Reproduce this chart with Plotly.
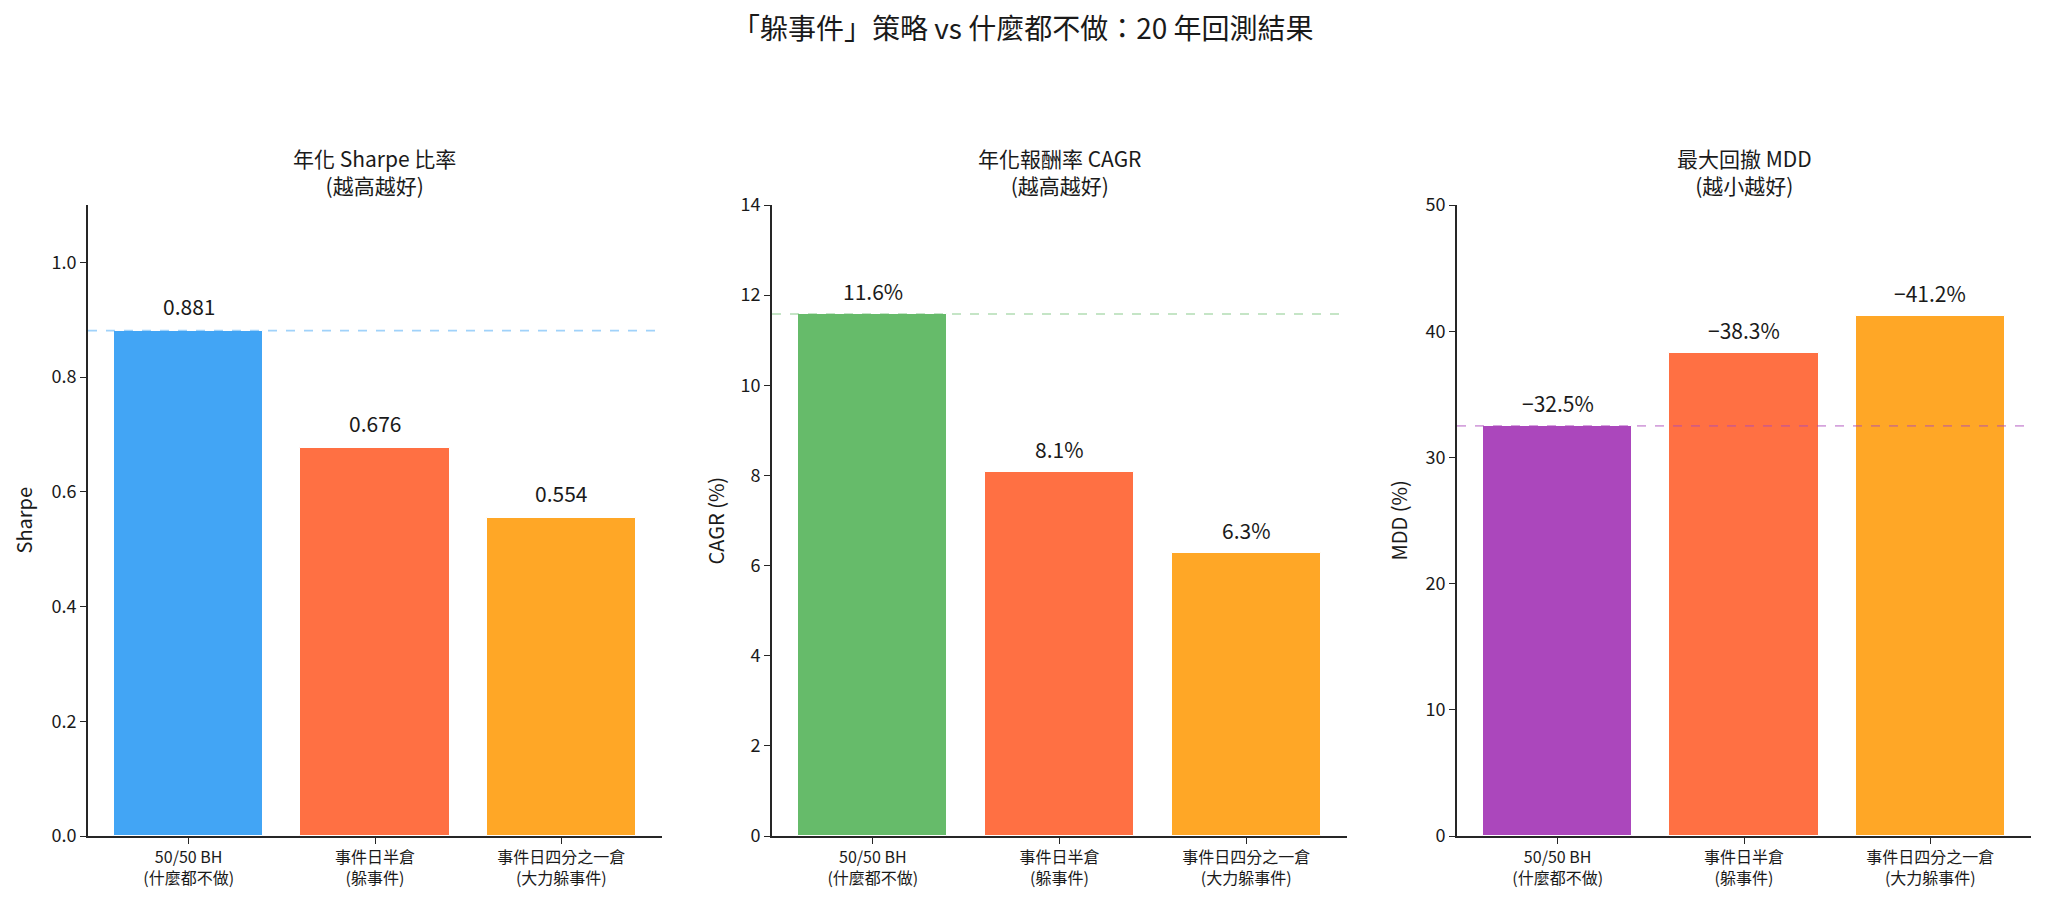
import plotly.graph_objects as go

W, H = 2045, 904
FONT = "Noto Sans CJK TC"

categories = ["50/50 BH<br>(什麼都不做)", "事件日半倉<br>(躲事件)", "事件日四分之一倉<br>(大力躲事件)"]
sharpe = [0.881, 0.676, 0.554]
cagr = [11.58, 8.07, 6.28]
mdd = [32.5, 38.3, 41.2]
sharpe_labels = ["0.881", "0.676", "0.554"]
cagr_labels = ["11.6%", "8.1%", "6.3%"]
mdd_labels = ["\u221232.5%", "\u221238.3%", "\u221241.2%"]

panel_titles = ["年化 Sharpe 比率<br>(越高越好)", "年化報酬率 CAGR<br>(越高越好)", "最大回撤 MDD<br>(越小越好)"]
y_titles = ["Sharpe", "CAGR (%)", "MDD (%)"]
y_ranges = [[0, 1.1], [0, 14], [0, 50]]
y_dticks = [0.2, 2, 10]
y_formats = [".1f", "d", "d"]
label_shift = [8, 6, 6]

colors = [
    ["#42A5F5", "#FF7043", "#FFA726"],
    ["#66BB6A", "#FF7043", "#FFA726"],
    ["#AB47BC", "#FF7043", "#FFA726"],
]
ref_colors = ["rgba(66,165,245,0.5)", "rgba(102,187,106,0.5)", "rgba(171,71,188,0.5)"]

series = [sharpe, cagr, mdd]
labels = [sharpe_labels, cagr_labels, mdd_labels]

# pixel layout of each panel
x_px = [(88, 662), (772, 1347), (1457, 2031)]
y_px = (205, 836)
ydom = [(H - y_px[1]) / H, (H - y_px[0]) / H]
ylab_px = [23, 715, 1398]

fig = go.Figure()
annotations = []
shapes = []
xs = list(range(len(categories)))

for i in range(3):
    xa = "x" if i == 0 else f"x{i+1}"
    ya = "y" if i == 0 else f"y{i+1}"
    fig.add_trace(go.Bar(
        x=xs, y=series[i], width=0.8,
        marker=dict(color=colors[i], line=dict(color="white", width=1)),
        xaxis=xa, yaxis=ya, showlegend=False, hoverinfo="skip",
    ))
    dom = [x_px[i][0] / W, x_px[i][1] / W]
    axis_common = dict(showline=True, linecolor="#262626", linewidth=1.6,
                       ticks="outside", ticklen=6, tickwidth=1.4, tickcolor="#262626",
                       showgrid=False, zeroline=False, mirror=False, automargin=False)
    fig.update_layout(**{
        ("xaxis" if i == 0 else f"xaxis{i+1}"): dict(
            domain=dom, anchor=ya, range=[-0.54, 2.54], tickmode="array",
            tickvals=xs, ticktext=categories,
            tickfont=dict(family=FONT, size=16, color="#1a1a1a"), **axis_common),
        ("yaxis" if i == 0 else f"yaxis{i+1}"): dict(
            domain=ydom, anchor=xa, range=y_ranges[i], dtick=y_dticks[i],
            tickformat=y_formats[i],
            tickfont=dict(family=FONT, size=18, color="#1a1a1a"), **axis_common),
    })
    # value labels
    for j in range(3):
        annotations.append(dict(
            x=xs[j], y=series[i][j], xref=xa, yref=ya, text=labels[i][j],
            showarrow=False, yanchor="bottom", yshift=label_shift[i],
            font=dict(family=FONT, size=21, color="#1a1a1a")))
    # reference dashed line at first bar value
    shapes.append(dict(
        type="line", xref=f"{xa} domain", yref=ya, x0=0, x1=1,
        y0=series[i][0], y1=series[i][0],
        line=dict(color=ref_colors[i], width=1.6, dash="dash")))
    # panel title
    annotations.append(dict(
        x=(dom[0] + dom[1]) / 2, y=1 - 172 / H, xref="paper", yref="paper",
        text=panel_titles[i], showarrow=False, xanchor="center", yanchor="middle",
        font=dict(family=FONT, size=21, color="#1a1a1a")))
    # y axis title
    annotations.append(dict(
        x=ylab_px[i] / W, y=(ydom[0] + ydom[1]) / 2, xref="paper", yref="paper",
        text=y_titles[i], showarrow=False, textangle=-90,
        xanchor="center", yanchor="middle",
        font=dict(family=FONT, size=20, color="#1a1a1a")))

annotations.append(dict(
    x=0.5, y=1 - 27 / H, xref="paper", yref="paper",
    text="「躲事件」策略 vs 什麼都不做：20 年回測結果", showarrow=False,
    xanchor="center", yanchor="middle",
    font=dict(family=FONT, size=28, color="#1a1a1a")))

fig.update_layout(
    width=W, height=H, margin=dict(l=0, r=0, t=0, b=0, autoexpand=False),
    paper_bgcolor="white", plot_bgcolor="white",
    annotations=annotations, shapes=shapes, bargap=0,
)

fig.write_html("out.html")
